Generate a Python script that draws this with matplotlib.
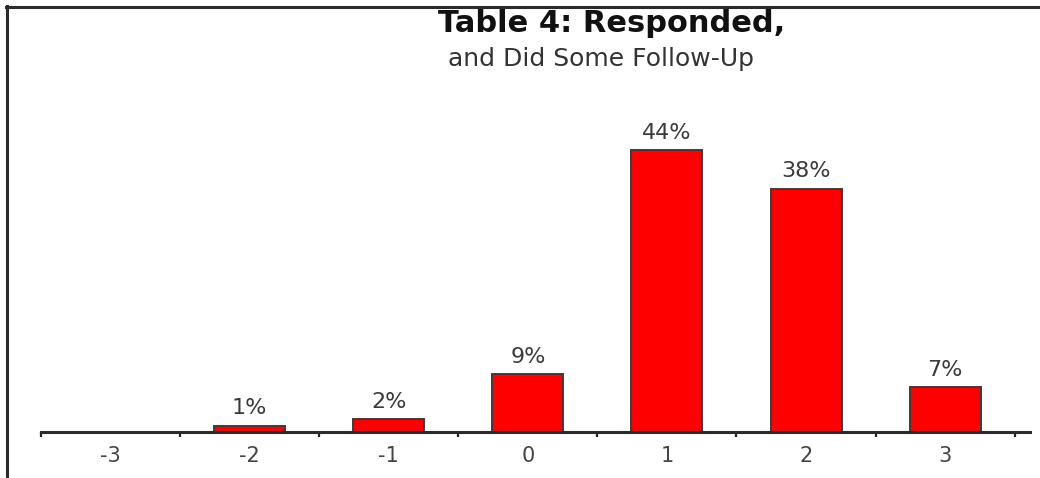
import matplotlib
matplotlib.use("Agg")
import matplotlib.pyplot as plt
from matplotlib.lines import Line2D

# Survey response distribution
categories = ["-3", "-2", "-1", "0", "1", "2", "3"]
percent = [0, 1, 2, 9, 44, 38, 7]
title = "Table 4: Responded,"
subtitle = "and Did Some Follow-Up"

W, H = 1040, 478
fig = plt.figure(figsize=(W / 100, H / 100), dpi=100)
fig.patch.set_facecolor("white")

# plot area in pixel terms: baseline at y=432, 6.4 px per percent
ax = fig.add_axes([41 / W, (H - 432) / H, 989 / W, 320 / H])
xpos = list(range(len(categories)))
ax.bar(xpos, percent, width=0.51, color="#ff0000",
       edgecolor="#3c3c3c", linewidth=1.4, zorder=2)

for xi, v in zip(xpos, percent):
    if v > 0:
        ax.annotate(f"{v}%", (xi, v), xytext=(0, 5.5), textcoords="offset points",
                    ha="center", va="bottom", fontsize=16, color="#3a3a3a",
                    family="DejaVu Sans")

ax.set_xlim(-0.5, len(categories) - 0.5 + 0.11)
ax.set_ylim(0, 50)
ax.set_xticks(xpos, categories)
ax.set_xticks([i - 0.5 for i in range(len(categories) + 1)], minor=True)
ax.tick_params(axis="x", which="major", length=0, pad=10,
               labelsize=15, labelcolor="#444444")
ax.tick_params(axis="x", which="minor", length=3.5, width=1.6,
               color="#222222", direction="out")
ax.set_yticks([])
for side in ("left", "right", "top"):
    ax.spines[side].set_visible(False)
ax.spines["bottom"].set_linewidth(2.2)
ax.spines["bottom"].set_color("#2b2b2b")
ax.spines["bottom"].set_zorder(3)
ax.set_facecolor("none")

fig.text(612 / W, 1 - 23 / H, title, ha="center", va="center",
         fontsize=22, fontweight="bold", color="#111111", family="DejaVu Sans")
fig.text(601 / W, 1 - 59 / H, subtitle, ha="center", va="center",
         fontsize=18, color="#333333", family="DejaVu Sans")

# outer frame: top and left rules
fig.add_artist(Line2D([6 / W, 1], [1 - 6.5 / H, 1 - 6.5 / H], transform=fig.transFigure,
                      lw=2.2, color="#2b2b2b"))
fig.add_artist(Line2D([7 / W, 7 / W], [0, 1 - 5.5 / H], transform=fig.transFigure,
                      lw=2.2, color="#2b2b2b"))

fig.savefig("out.png", dpi=100, facecolor="white")
